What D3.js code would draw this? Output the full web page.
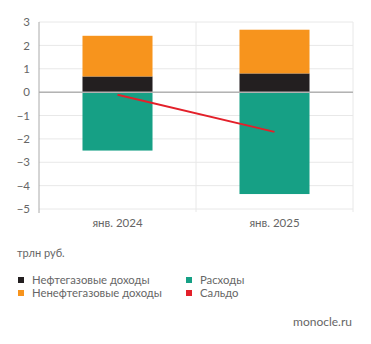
<!DOCTYPE html>
<html><head><meta charset="utf-8">
<script src="https://cdn.jsdelivr.net/npm/d3@7"></script>
<style>body{margin:0;background:#fff}svg{display:block;font-family:Lato,"Open Sans",sans-serif}</style>
</head><body><svg id="c" width="371" height="344"></svg>
<script>
const categories = ["янв. 2024", "янв. 2025"];
const oilGas = [0.67, 0.80];
const nonOilGas = [1.74, 1.87];
const expenses = [-2.50, -4.36];
const balance = [-0.11, -1.70];
const yTicks = [3, 2, 1, 0, -1, -2, -3, -4, -5];
const legendItems = [
  {label: "Нефтегазовые доходы", color: "#231f20"},
  {label: "Ненефтегазовые доходы", color: "#f7941d"},
  {label: "Расходы", color: "#16a085"},
  {label: "Сальдо", color: "#e3202a"}
];

const svg = d3.select("#c");
const mLeft = 39, mRight = 353, mTop = 22, mBottom = 209;
const x = d3.scaleBand().domain(categories).range([mLeft, mRight]).paddingInner(0).paddingOuter(0);
const y = d3.scaleLinear().domain([-5, 3]).range([mBottom, mTop]);
const bw = x.bandwidth() * 0.446;

// grid
svg.append("g").selectAll("line").data(yTicks).join("line")
  .attr("x1", mLeft).attr("x2", mRight).attr("y1", d => y(d)).attr("y2", d => y(d))
  .attr("stroke", "#e8e8e8").attr("stroke-width", 1);
svg.append("g").selectAll("line").data([categories[1]]).join("line")
  .attr("x1", d => x(d)).attr("x2", d => x(d)).attr("y1", mTop).attr("y2", mBottom + 3)
  .attr("stroke", "#e8e8e8");
svg.append("line").attr("x1", mRight).attr("x2", mRight).attr("y1", mTop).attr("y2", mBottom + 3).attr("stroke", "#e8e8e8");

// bars
const cx = d => x(d) + x.bandwidth() / 2;
svg.append("g").selectAll("rect").data(categories).join("rect")
  .attr("x", d => cx(d) - bw / 2).attr("width", bw)
  .attr("y", (d, i) => y(expenses[i] < 0 ? 0 : expenses[i]))
  .attr("height", (d, i) => Math.abs(y(expenses[i]) - y(0)))
  .attr("fill", legendItems[2].color);
svg.append("g").selectAll("rect").data(categories).join("rect")
  .attr("x", d => cx(d) - bw / 2).attr("width", bw)
  .attr("y", (d, i) => y(oilGas[i])).attr("height", (d, i) => y(0) - y(oilGas[i]))
  .attr("fill", legendItems[0].color);
svg.append("g").selectAll("rect").data(categories).join("rect")
  .attr("x", d => cx(d) - bw / 2).attr("width", bw)
  .attr("y", (d, i) => y(oilGas[i] + nonOilGas[i])).attr("height", (d, i) => y(oilGas[i]) - y(oilGas[i] + nonOilGas[i]))
  .attr("fill", legendItems[1].color);

// zero line
svg.append("line").attr("x1", mLeft).attr("x2", mRight).attr("y1", y(0)).attr("y2", y(0))
  .attr("stroke", "#b3b3b3").attr("stroke-width", 1.5);

// balance line
svg.append("path").datum(categories)
  .attr("d", d3.line().x(d => cx(d)).y((d, i) => y(balance[i])))
  .attr("fill", "none").attr("stroke", legendItems[3].color).attr("stroke-width", 2);

// y axis
const ya = svg.append("g").attr("transform", `translate(${mLeft},0)`)
  .call(d3.axisLeft(y).tickValues(yTicks).tickSize(0).tickPadding(9).tickFormat(d3.format("d")));
ya.select(".domain").remove();
ya.selectAll("text").attr("fill", "#666").style("font-size", "11.5px").style("font-family", "Lato, sans-serif");
svg.append("line").attr("x1", mLeft).attr("x2", mLeft).attr("y1", mTop).attr("y2", mBottom + 4)
  .attr("stroke", "#aaa").attr("stroke-width", 1);

// x axis
const xa = svg.append("g").attr("transform", `translate(0,${mBottom})`)
  .call(d3.axisBottom(x).tickSize(0).tickPadding(10));
xa.select(".domain").remove();
xa.selectAll("text").attr("fill", "#666").style("font-size", "11.5px").style("font-family", "Lato, sans-serif");

// unit
svg.append("text").attr("x", 17).attr("y", 257).text("трлн руб.")
  .attr("fill", "#666").style("font-size", "11px");

// legend
const lg = svg.append("g").selectAll("g").data(legendItems).join("g")
  .attr("transform", (d, i) => `translate(${i < 2 ? 18 : 186},${i % 2 === 0 ? 281 : 294})`);
lg.append("rect").attr("x", 0).attr("y", -4).attr("width", 6).attr("height", 6).attr("fill", d => d.color);
lg.append("text").attr("x", 14).attr("y", 3).text(d => d.label)
  .attr("fill", "#666").style("font-size", "11.3px");

svg.append("text").attr("x", 352).attr("y", 326).attr("text-anchor", "end").text("monocle.ru")
  .attr("fill", "#666").style("font-size", "12px");
</script></body></html>
